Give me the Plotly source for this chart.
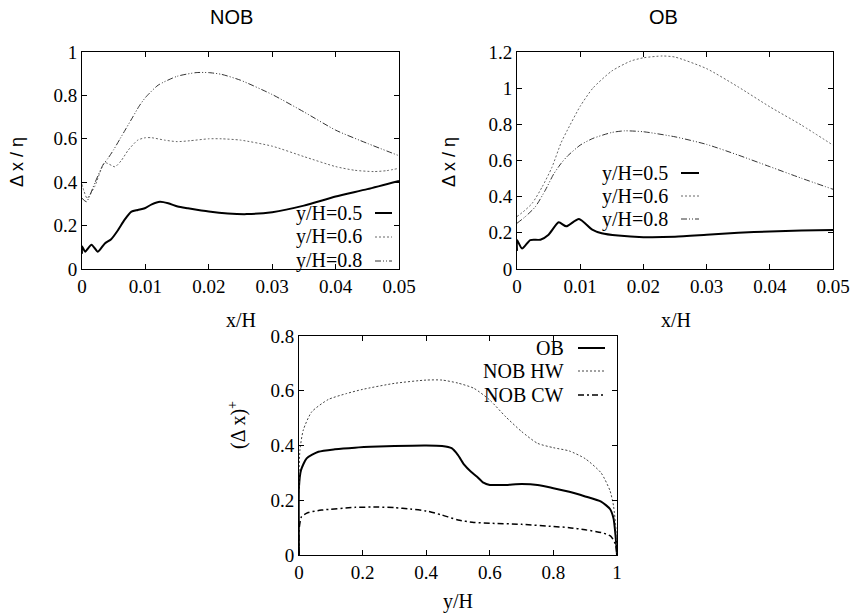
import plotly.graph_objects as go

W, H = 854, 613

# ---------------- data: NOB (top-left) ----------------
nob_x_05 = [0, 0, 0.0005, 0.0015, 0.0025, 0.0036, 0.0046, 0.0057, 0.0067, 0.0078, 0.0088, 0.0099,
            0.011, 0.0123, 0.0136, 0.0151, 0.0167, 0.02, 0.023, 0.026, 0.03, 0.035, 0.04, 0.045, 0.05]
nob_y_05 = [0.07, 0.105, 0.08, 0.112, 0.08, 0.118, 0.137, 0.18, 0.226, 0.264, 0.272, 0.28,
            0.298, 0.31, 0.303, 0.288, 0.28, 0.265, 0.256, 0.253, 0.262, 0.292, 0.334, 0.368, 0.406]

nob_x_06 = [0, 0.0003, 0.0008, 0.002, 0.0036, 0.0052, 0.0062, 0.0073, 0.0088, 0.01, 0.011, 0.013,
            0.015, 0.017, 0.02, 0.022, 0.025, 0.03, 0.035, 0.04, 0.043, 0.046, 0.048, 0.05]
nob_y_06 = [0.39, 0.36, 0.326, 0.38, 0.49, 0.471, 0.5, 0.548, 0.594, 0.605, 0.605, 0.594,
            0.587, 0.591, 0.600, 0.600, 0.594, 0.566, 0.518, 0.472, 0.455, 0.449, 0.453, 0.464]

nob_x_08 = [0, 0.0007, 0.002, 0.0033, 0.0041, 0.005, 0.006, 0.007, 0.008, 0.009, 0.01, 0.012,
            0.015, 0.018, 0.02, 0.022, 0.025, 0.03, 0.035, 0.04, 0.045, 0.05]
nob_y_08 = [0.326, 0.31, 0.395, 0.479, 0.51, 0.55, 0.6, 0.65, 0.70, 0.75, 0.79, 0.847,
            0.888, 0.905, 0.905, 0.897, 0.87, 0.804, 0.724, 0.64, 0.579, 0.522]

# ---------------- data: OB (top-right) ----------------
ob_x_05 = [0, 0, 0.0008, 0.0021, 0.0037, 0.005, 0.0066, 0.0078, 0.0098, 0.0119, 0.0134, 0.016,
           0.02, 0.025, 0.03, 0.035, 0.04, 0.045, 0.05]
ob_y_05 = [0.10, 0.16, 0.113, 0.16, 0.162, 0.19, 0.258, 0.236, 0.277, 0.218, 0.198, 0.185,
           0.176, 0.178, 0.189, 0.2, 0.208, 0.213, 0.216]

ob_x_06 = [0, 0.001, 0.0024, 0.004, 0.0055, 0.007, 0.008, 0.01, 0.012, 0.015, 0.018, 0.02,
           0.023, 0.025, 0.03, 0.035, 0.04, 0.045, 0.05]
ob_y_06 = [0.29, 0.317, 0.363, 0.455, 0.56, 0.70, 0.77, 0.90, 1.0, 1.095, 1.15, 1.168,
           1.178, 1.172, 1.108, 1.007, 0.897, 0.796, 0.685]

ob_x_08 = [0, 0.0013, 0.0029, 0.0045, 0.0058, 0.007, 0.008, 0.01, 0.012, 0.015, 0.017, 0.02,
           0.025, 0.03, 0.035, 0.04, 0.045, 0.05]
ob_y_08 = [0.253, 0.289, 0.344, 0.437, 0.525, 0.585, 0.625, 0.685, 0.722, 0.755, 0.764, 0.759,
           0.731, 0.689, 0.63, 0.566, 0.502, 0.441]

# ---------------- data: (dx)+ vs y/H (bottom) ----------------
b_x_ob = [0, 0.0, 0.0063, 0.024, 0.061, 0.113, 0.176, 0.25, 0.3, 0.4, 0.45, 0.48, 0.5, 0.52, 0.54,
          0.56, 0.58, 0.6, 0.65, 0.7, 0.75, 0.8, 0.85, 0.9, 0.95, 0.978, 0.989, 0.997, 1.0]
b_y_ob = [0, 0.25, 0.31, 0.353, 0.377, 0.386, 0.392, 0.396, 0.398, 0.4, 0.398, 0.39, 0.365, 0.329, 0.305,
          0.286, 0.264, 0.256, 0.256, 0.259, 0.256, 0.244, 0.231, 0.214, 0.195, 0.168, 0.134, 0.05, 0]

b_x_hw = [0, 0, 0.003, 0.0136, 0.04, 0.092, 0.15, 0.2, 0.3, 0.4, 0.45, 0.5, 0.55, 0.6, 0.65,
          0.7, 0.75, 0.8, 0.85, 0.9, 0.95, 0.978, 0.989, 0.997, 1.0]
b_y_hw = [0, 0.286, 0.384, 0.457, 0.523, 0.568, 0.59, 0.605, 0.627, 0.639, 0.639, 0.628, 0.609, 0.566, 0.505,
          0.451, 0.408, 0.392, 0.38, 0.352, 0.3, 0.235, 0.18, 0.09, 0]

b_x_cw = [0, 0, 0.008, 0.029, 0.071, 0.176, 0.25, 0.3, 0.35, 0.4, 0.45, 0.5, 0.55, 0.6, 0.7,
          0.8, 0.85, 0.9, 0.95, 0.98, 0.995, 1.0]
b_y_cw = [0, 0.091, 0.14, 0.155, 0.164, 0.174, 0.175, 0.173, 0.168, 0.161, 0.146, 0.128, 0.119, 0.116, 0.112,
          0.104, 0.1, 0.092, 0.082, 0.069, 0.04, 0]

top_labels = ["y/H=0.5", "y/H=0.6", "y/H=0.8"]
bot_labels = ["OB", "NOB HW", "NOB CW"]

# ---------------- styles ----------------
SERIF = "Liberation Serif, Times New Roman, serif"
SANS = "Liberation Sans, Arial, sans-serif"
st_solid = dict(color="black", width=2, dash="solid")
st_dot = dict(color="#666666", width=1, dash="2px,2px")
st_dd = dict(color="#333333", width=1, dash="6px,2px,1px,2px,1px,2px")
st_hw = dict(color="#444444", width=1, dash="2px,2px")
st_cw = dict(color="black", width=1.5, dash="6px,3px,2px,3px")


def px(x):
    return x / W


def py(y):
    return 1 - y / H


fig = go.Figure()


def add(xs, ys, ax, style):
    fig.add_trace(go.Scatter(x=xs, y=ys, mode="lines", line=dict(shape="spline", smoothing=0.6, **style),
                             xaxis="x" + ax, yaxis="y" + ax, showlegend=False, hoverinfo="skip"))


add(nob_x_05, nob_y_05, "", st_solid)
add(nob_x_06, nob_y_06, "", st_dot)
add(nob_x_08, nob_y_08, "", st_dd)
add(ob_x_05, ob_y_05, "2", st_solid)
add(ob_x_06, ob_y_06, "2", st_dot)
add(ob_x_08, ob_y_08, "2", st_dd)
add(b_x_ob, b_y_ob, "3", st_solid)
add(b_x_hw, b_y_hw, "3", st_hw)
add(b_x_cw, b_y_cw, "3", st_cw)

tickfont = dict(family=SERIF, size=19, color="black")
axcommon = dict(showline=True, linecolor="black", linewidth=1, mirror="ticks", ticks="inside",
                ticklen=5, tickcolor="black", showgrid=False, zeroline=False, tickfont=tickfont,
                automargin=False)

fig.update_layout(
    width=W, height=H, margin=dict(l=0, r=0, t=0, b=0),
    paper_bgcolor="white", plot_bgcolor="white", showlegend=False,
    xaxis=dict(domain=[px(82), px(399)], range=[0, 0.05], dtick=0.01, anchor="y", **axcommon),
    yaxis=dict(domain=[py(269), py(52)], range=[0, 1], dtick=0.2, anchor="x", **axcommon),
    xaxis2=dict(domain=[px(517), px(833)], range=[0, 0.05], dtick=0.01, anchor="y2", **axcommon),
    yaxis2=dict(domain=[py(269), py(52)], range=[0, 1.2], dtick=0.2, anchor="x2", **axcommon),
    xaxis3=dict(domain=[px(299), px(617)], range=[0, 1], dtick=0.2, anchor="y3", **axcommon),
    yaxis3=dict(domain=[py(555), py(336)], range=[0, 0.8], dtick=0.2, anchor="x3", **axcommon),
)

ann = []


def text(s, x, y, font, angle=0, xanchor="center"):
    ann.append(dict(text=s, x=px(x), y=py(y), xref="paper", yref="paper", showarrow=False,
                    xanchor=xanchor, yanchor="middle", textangle=angle, font=font, borderpad=0))


f_title = dict(family=SANS, size=20, color="black")
f_ylab = dict(family=SANS, size=18, color="black")
f_serif = dict(family=SERIF, size=20, color="black")

text("NOB", 231, 17, f_title)
text("OB", 663, 17, f_title)
text("Δ x / η", 17, 162, f_ylab, angle=-90)
text("Δ x / η", 449, 162, f_ylab, angle=-90)
text("x/H", 241, 320, f_serif)
text("x/H", 676, 320, f_serif)
text("(Δ x)<sup>+</sup>", 237, 425, f_serif, angle=-90)
text("y/H", 458, 601, f_serif)

shapes = []


def legend(labels, styles, xr, ys, s0, s1):
    for lab, st, yy in zip(labels, styles, ys):
        text(lab, xr, yy, f_serif, xanchor="right")
        shapes.append(dict(type="line", xref="paper", yref="paper", x0=px(s0), x1=px(s1),
                           y0=py(yy), y1=py(yy), line=st))


legend(top_labels, [st_solid, st_dot, st_dd], 363, [213, 237, 261], 375, 392)
legend(top_labels, [st_solid, st_dot, st_dd], 669, [173, 196, 219], 681, 699)
legend(bot_labels, [st_solid, st_hw, st_cw], 565, [348, 371, 395], 578, 605)

fig.update_layout(annotations=ann, shapes=shapes)
fig.write_html("out.html", config={"displayModeBar": False},
               post_script="document.body.style.margin='0px';document.body.style.overflow='hidden';")
